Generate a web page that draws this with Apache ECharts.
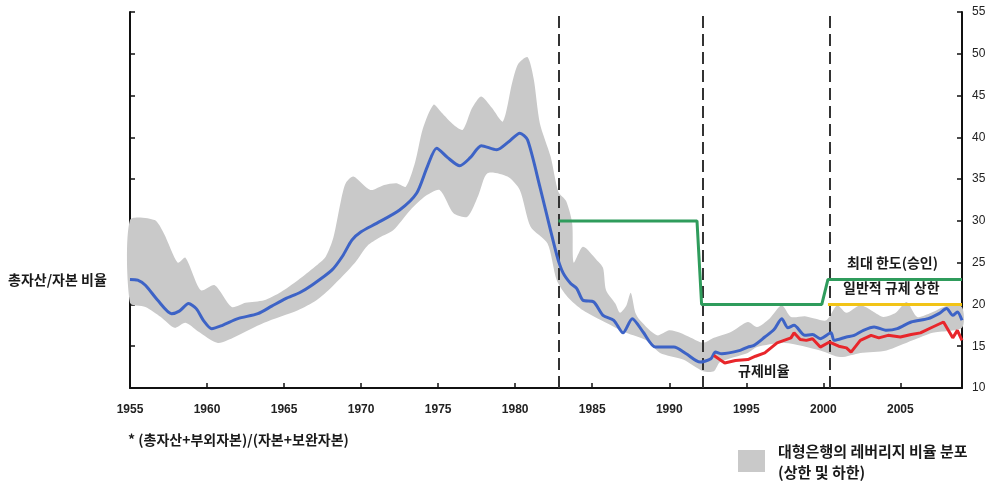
<!DOCTYPE html>
<html>
<head>
<meta charset="utf-8">
<script src="https://cdn.jsdelivr.net/npm/echarts@6/dist/echarts.min.js"></script>
<style>
  html, body { margin: 0; padding: 0; background: #fff; }
  #chart { width: 997px; height: 485px; }
</style>
</head>
<body>
<div id="chart"></div>
<script>
// Total assets / capital ratio (blue)
const totalRatio = [
  [1955, 23.0], [1955.5, 22.9], [1956, 22.3], [1956.8, 20.5], [1957.7, 18.9], [1958.2, 19.2],
  [1958.8, 20.1], [1959.3, 19.5], [1959.8, 18.0], [1960.3, 17.1], [1961.0, 17.5], [1962.0, 18.3],
  [1963.3, 18.9], [1964.2, 19.8], [1965.1, 20.7], [1966.0, 21.4], [1966.8, 22.3], [1968.1, 24.1],
  [1968.8, 25.8], [1969.4, 27.7], [1970.0, 28.7], [1971.0, 29.7], [1972.5, 31.3], [1973.6, 33.3],
  [1974.3, 36.5], [1974.9, 38.7], [1975.6, 37.6], [1976.4, 36.6], [1977.1, 37.6], [1977.8, 39.0],
  [1978.8, 38.5], [1979.6, 39.5], [1980.3, 40.5], [1980.8, 39.7], [1981.6, 34.1], [1982.7, 25.9],
  [1983.1, 23.8], [1983.6, 22.5], [1984.0, 21.9], [1984.4, 20.5], [1985.1, 20.3], [1985.7, 18.7],
  [1986.4, 18.1], [1987.0, 16.6], [1987.6, 18.3], [1988.3, 16.7], [1989.1, 14.9], [1990.3, 14.9],
  [1991.1, 14.1], [1992.0, 13.1], [1992.7, 13.5], [1993.0, 14.3], [1993.4, 14.1], [1994.6, 14.5],
  [1995.1, 14.9], [1995.5, 15.1], [1996.2, 16.1], [1996.8, 17.0], [1997.3, 18.3], [1997.7, 17.2],
  [1998.1, 17.5], [1998.8, 16.3], [1999.3, 16.4], [1999.8, 15.9], [2000.5, 16.6], [2000.7, 15.7],
  [2001.5, 16.1], [2002.0, 16.3], [2002.6, 16.9], [2003.3, 17.3], [2004.1, 16.9], [2004.8, 17.1],
  [2005.7, 17.9], [2006.8, 18.3], [2007.5, 18.9], [2008.0, 19.5], [2008.4, 18.7], [2008.7, 19.1],
  [2009.0, 18.1]
];

// Regulatory ratio (red)
const regRatio = [
  [1992.9, 13.9], [1993.6, 13.0], [1994.3, 13.3], [1995.1, 13.4], [1995.6, 13.8], [1996.2, 14.2],
  [1997.0, 15.4], [1997.9, 16.0], [1998.1, 16.6], [1998.5, 15.8], [1998.9, 15.7], [1999.3, 15.9],
  [1999.8, 14.9], [2000.4, 15.5], [2001.0, 15.0], [2001.5, 14.8], [2001.8, 14.3], [2002.4, 15.7],
  [2003.1, 16.3], [2003.6, 16.0], [2004.2, 16.3], [2005.0, 16.1], [2005.7, 16.4], [2006.3, 16.6],
  [2007.1, 17.3], [2007.8, 17.9], [2008.4, 16.0], [2008.7, 16.9], [2009.0, 15.7]
];

// Large-bank leverage distribution: upper and lower bounds (grey band)
const bandUpper = [
  [1955, 30.1], [1956.6, 30.1], [1957.2, 28.5], [1958.1, 25.0], [1958.6, 25.6], [1959.6, 21.7],
  [1960.5, 22.3], [1961.6, 19.7], [1962.5, 20.2], [1963.7, 20.5], [1964.8, 21.5], [1965.9, 22.9],
  [1967.0, 24.5], [1967.7, 25.7], [1968.2, 28.0], [1968.7, 32.5], [1969.0, 34.5], [1969.5, 35.3],
  [1970.6, 33.7], [1971.5, 34.3], [1972.3, 34.5], [1972.9, 34.1], [1973.5, 37.0], [1974.0, 41.0],
  [1974.7, 43.9], [1975.2, 43.0], [1976.0, 41.5], [1976.6, 40.9], [1977.2, 43.5], [1977.8, 44.9],
  [1978.5, 43.5], [1979.2, 41.9], [1979.8, 46.5], [1980.2, 48.8], [1980.8, 49.6], [1981.2, 47.0],
  [1981.6, 41.7], [1982.3, 37.7], [1982.8, 33.5], [1983.3, 32.4], [1983.7, 29.7], [1983.8, 25.0],
  [1984.4, 26.9], [1985.3, 25.3], [1985.7, 24.4], [1985.9, 21.7], [1986.5, 20.1], [1986.8, 19.0],
  [1987.2, 19.8], [1987.5, 21.4], [1987.8, 19.0], [1988.1, 18.1], [1989.2, 16.3], [1990.0, 16.9],
  [1990.7, 16.6], [1991.4, 16.0], [1992.2, 15.4], [1992.9, 16.0], [1994.0, 16.7], [1995.1, 17.9],
  [1995.7, 17.3], [1996.5, 18.3], [1997.3, 19.9], [1997.9, 18.5], [1998.8, 18.6], [1999.5, 18.3],
  [2000.2, 18.1], [2000.9, 19.9], [2001.5, 19.0], [2002.4, 19.9], [2003.2, 19.2], [2003.9, 18.5],
  [2004.7, 19.0], [2005.4, 20.3], [2006.1, 18.5], [2007.0, 19.0], [2008.0, 19.8], [2009.0, 19.7]
];
const bandLower = [
  [1955, 20.2], [1956.0, 19.7], [1957.0, 18.5], [1957.9, 17.2], [1958.6, 17.8], [1959.4, 16.8],
  [1960.7, 15.4], [1961.8, 16.1], [1963.7, 17.8], [1965.9, 19.3], [1967.1, 20.5], [1968.1, 22.1],
  [1969.6, 25.0], [1970.4, 27.0], [1971.2, 28.0], [1972.1, 28.9], [1973.2, 31.3], [1974.2, 33.0],
  [1975.1, 33.7], [1976.0, 30.9], [1976.9, 30.5], [1977.6, 33.0], [1978.2, 35.7], [1979.5, 35.3],
  [1980.3, 33.7], [1981.0, 29.3], [1982.1, 27.3], [1982.7, 22.9], [1983.4, 20.9], [1984.4, 19.3],
  [1985.9, 17.8], [1987.2, 16.6], [1988.5, 15.7], [1989.4, 14.2], [1990.9, 13.4], [1992.2, 12.0],
  [1992.9, 12.0], [1993.3, 13.1], [1995.1, 14.2], [1995.7, 14.9], [1997.5, 15.4], [1999.8, 14.5],
  [2001.1, 13.7], [2002.4, 14.2], [2004.1, 14.5], [2005.8, 15.7], [2007.1, 16.6], [2009.0, 17.2]
];

// Maximum limit (approved) and general regulatory cap
const maxLimit = [[1982.8, 30], [1991.8, 30], [1992.1, 20], [1999.9, 20], [2000.3, 23], [2009, 23]];
const generalCap = [[2000.3, 20], [2009, 20]];

// Regime change years (dashed verticals)
const regimeYears = [1982.8, 1992.15, 2000.4];

const xTickYears = [1955, 1960, 1965, 1970, 1975, 1980, 1985, 1990, 1995, 2000, 2005];
const yTicks = [10, 15, 20, 25, 30, 35, 40, 45, 50, 55];

const textFont = '"Noto Sans CJK KR", "Noto Sans", sans-serif';
const numFont = '"Liberation Sans", Arial, sans-serif';

const chart = echarts.init(document.getElementById('chart'), null, { renderer: 'canvas' });

const lineSeries = (name, data, color, z, smooth) => ({
  name, type: 'line', data, z, smooth: smooth || false,
  symbol: 'none', lineStyle: { color, width: 3 }, animation: false
});

chart.setOption({
  backgroundColor: '#ffffff',
  animation: false,
  grid: { left: 130, right: 35, top: 12, bottom: 97 },
  xAxis: {
    type: 'value', min: 1955, max: 2009, interval: 5,
    axisLine: { onZero: false, lineStyle: { color: '#111', width: 2 } },
    axisTick: { inside: true, length: 5, lineStyle: { color: '#111', width: 1.5 } },
    splitLine: { show: false },
    axisLabel: {
      margin: 16, color: '#222', fontSize: 12, fontWeight: 'bold', fontFamily: numFont,
      formatter: v => (xTickYears.indexOf(v) >= 0 ? String(v) : '')
    }
  },
  yAxis: [
    {
      type: 'value', position: 'left', min: 10, max: 55, interval: 5,
      axisLine: { show: true, lineStyle: { color: '#111', width: 2 } },
      axisTick: { show: true, inside: true, length: 5, lineStyle: { color: '#111', width: 1.5 } },
      axisLabel: { show: false },
      splitLine: { show: false }
    },
    {
      type: 'value', position: 'right', min: 10, max: 55, interval: 5,
      axisLine: { show: true, lineStyle: { color: '#111', width: 2 } },
      axisTick: { show: true, inside: true, length: 5, lineStyle: { color: '#111', width: 1.5 } },
      axisLabel: {
        margin: 10, color: '#222', fontSize: 12, fontFamily: numFont,
        formatter: v => (yTicks.indexOf(v) >= 0 ? String(v) : '')
      },
      splitLine: { show: false }
    }
  ],
  series: [
    {
      name: 'band', type: 'custom', z: 1, animation: false,
      data: bandUpper.concat(bandLower),
      renderItem: (params, api) => {
        if (params.dataIndex !== 0) return null;
        const pts = bandUpper.map(p => api.coord(p))
          .concat(bandLower.slice().reverse().map(p => api.coord(p)));
        return {
          type: 'polygon',
          shape: { points: pts, smooth: 0.25 },
          style: { fill: '#c9c9c9', stroke: null }
        };
      }
    },
    lineSeries('total', totalRatio, '#3d63c6', 5, 0.25),
    lineSeries('reg', regRatio, '#e8262b', 6, false),
    lineSeries('max', maxLimit, '#2f9c5c', 7, false),
    lineSeries('cap', generalCap, '#f2c417', 7, false),
    {
      name: 'regimes', type: 'line', data: [], z: 8, animation: false,
      markLine: {
        silent: true, symbol: 'none', animation: false,
        label: { show: false },
        lineStyle: { color: '#333', width: 2, type: [12, 6] },
        data: regimeYears.map(y => [{ coord: [y, 10] }, { coord: [y, 55] }])
      }
    }
  ],
  graphic: [
    {
      type: 'text', left: 8, top: 273, z: 20,
      style: { text: '총자산/자본 비율', fill: '#1a1a1a', font: 'bold 14px ' + textFont }
    },
    {
      type: 'text', left: 738, top: 364, z: 20,
      style: { text: '규제비율', fill: '#1a1a1a', font: 'bold 14px ' + textFont }
    },
    {
      type: 'text', left: 847, top: 256, z: 20,
      style: { text: '최대 한도(승인)', fill: '#1a1a1a', font: 'bold 14px ' + textFont }
    },
    {
      type: 'text', left: 843, top: 281, z: 20,
      style: { text: '일반적 규제 상한', fill: '#1a1a1a', font: 'bold 14px ' + textFont, backgroundColor: '#fff' }
    },
    {
      type: 'text', left: 128, top: 433, z: 20,
      style: { text: '* (총자산+부외자본)/(자본+보완자본)', fill: '#1a1a1a', font: 'bold 14px ' + textFont }
    },
    {
      type: 'rect', left: 738, top: 450, z: 20,
      shape: { width: 27, height: 22 }, style: { fill: '#c9c9c9' }
    },
    {
      type: 'text', left: 778, top: 444, z: 20,
      style: { text: '대형은행의 레버리지 비율 분포', fill: '#1a1a1a', font: 'bold 15px ' + textFont }
    },
    {
      type: 'text', left: 778, top: 465, z: 20,
      style: { text: '(상한 및 하한)', fill: '#1a1a1a', font: 'bold 15px ' + textFont }
    }
  ]
});
</script>
</body>
</html>
